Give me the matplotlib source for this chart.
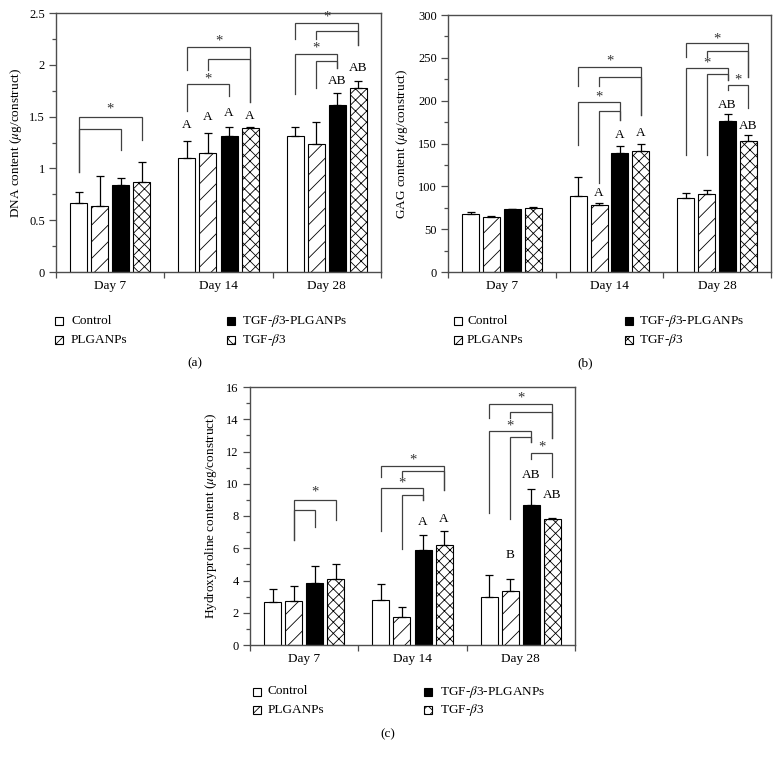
import matplotlib
matplotlib.use('Agg')
import matplotlib.pyplot as plt
import numpy as np
from matplotlib.patches import Rectangle
from matplotlib.ticker import MultipleLocator, FixedLocator, FuncFormatter

plt.rcParams['font.family'] = ['Liberation Serif', 'DejaVu Serif']
plt.rcParams['mathtext.fontset'] = 'stix'
plt.rcParams['hatch.linewidth'] = 0.6

# ---------------- data ----------------
days = ['Day 7', 'Day 14', 'Day 28']
groups = ['Control', 'PLGANPs', r'TGF-$\beta$3-PLGANPs', r'TGF-$\beta$3']

# (a) DNA content
dna_control = [0.67, 1.10, 1.31]
dna_plga = [0.64, 1.15, 1.24]
dna_tgfnp = [0.84, 1.31, 1.61]
dna_tgf = [0.87, 1.39, 1.78]
dna_control_err = [0.10, 0.16, 0.09]
dna_plga_err = [0.29, 0.19, 0.21]
dna_tgfnp_err = [0.07, 0.09, 0.12]
dna_tgf_err = [0.19, 0.01, 0.06]

# (b) GAG content
gag_control = [67.3, 88.7, 86.7]
gag_plga = [64.6, 78.0, 90.7]
gag_tgfnp = [73.2, 138.6, 176.6]
gag_tgf = [75.1, 141.2, 153.0]
gag_control_err = [2.4, 21.8, 5.1]
gag_plga_err = [0.4, 3.0, 5.0]
gag_tgfnp_err = [0.3, 8.9, 8.4]
gag_tgf_err = [0.4, 8.2, 7.0]

# (c) Hydroxyproline content
hyp_control = [2.64, 2.77, 2.99]
hyp_plga = [2.72, 1.75, 3.32]
hyp_tgfnp = [3.82, 5.88, 8.67]
hyp_tgf = [4.07, 6.23, 7.84]
hyp_control_err = [0.83, 1.03, 1.38]
hyp_plga_err = [0.93, 0.58, 0.79]
hyp_tgfnp_err = [1.07, 0.97, 0.99]
hyp_tgf_err = [0.96, 0.87, 0.04]

# significance letters: (day, group, text, y)
dna_letters = [(1, 0, 'A', 1.42), (1, 1, 'A', 1.50), (1, 2, 'A', 1.53), (1, 3, 'A', 1.51),
               (2, 2, 'AB', 1.84), (2, 3, 'AB', 1.97)]
gag_letters = [(1, 1, 'A', 91.8), (1, 2, 'A', 160), (1, 3, 'A', 162.6),
               (2, 2, 'AB', 195), (2, 3, 'AB', 170)]
hyp_letters = [(1, 2, 'A', 7.64), (1, 3, 'A', 7.80),
               (2, 1, 'B', 5.57), (2, 2, 'AB', 10.57), (2, 3, 'AB', 9.33)]

# brackets: (day, left group, right group, top y, left leg end, right leg end, star y or None)
dna_brackets = [
    (0, 0, 3, 1.50, 0.97, 1.27, 1.57),
    (0, 0, 2, 1.38, 0.97, 1.18, None),
    (1, 0, 3, 2.17, 1.95, 1.64, 2.23),
    (1, 1, 3, 2.06, 1.95, 1.64, None),
    (1, 0, 2, 1.81, 1.55, 1.70, 1.86),
    (2, 0, 3, 2.40, 2.25, 2.19, 2.46),
    (2, 1, 3, 2.33, 2.25, 2.19, None),
    (2, 0, 2, 2.10, 1.72, 1.97, 2.16),
    (2, 1, 2, 2.04, 1.78, 1.97, None),
]
gag_brackets = [
    (1, 0, 3, 239.7, 217, 183, 246),
    (1, 1, 3, 228, 217, 183, None),
    (1, 0, 2, 198.4, 148, 177, 204.6),
    (1, 1, 2, 188, 103.5, 177, None),
    (2, 0, 3, 267, 251, 228, 271.6),
    (2, 1, 3, 258, 251, 228, None),
    (2, 0, 2, 238, 137, 224, 243.6),
    (2, 1, 2, 231, 137, 224, None),
    (2, 2, 3, 218, 212, 192, 224),
]
hyp_brackets = [
    (0, 1, 3, 8.98, 6.5, 7.78, 9.49),
    (0, 1, 2, 8.40, 6.5, 7.29, None),
    (1, 0, 3, 11.08, 10.42, 9.6, 11.5),
    (1, 1, 3, 10.80, 10.42, 9.6, None),
    (1, 0, 2, 9.74, 7.07, 8.98, 10.05),
    (1, 1, 2, 9.33, 5.98, 8.98, None),
    (2, 0, 3, 14.92, 14.1, 12.86, 15.34),
    (2, 1, 3, 14.45, 14.1, 12.86, None),
    (2, 0, 2, 13.25, 8.2, 12.59, 13.56),
    (2, 1, 2, 12.90, 7.8, 12.59, None),
    (2, 2, 3, 11.91, 11.56, 10.42, 12.28),
]

# ---------------- styling ----------------
W, H = 781, 761
fig = plt.figure(figsize=(W / 100, H / 100), dpi=100)

faces = ['white', 'white', 'black', 'white']
hatches = [None, '//', None, 'xxx']
STEP = 0.194
BW = 0.157
SPINE = '#4d4d4d'
BR = '#404040'
FS = 9.5
TFS = 9.0


def px_axes(l, t, r, b):
    return [l / W, 1 - b / H, (r - l) / W, (b - t) / H]


def bar_x(day, g):
    return day + (g - 1.5) * STEP


def panel(rect, series, errs, ylim, major, minor, ylabel, ylab_off, letters, brackets):
    ax = fig.add_axes(px_axes(*rect))
    x0 = np.arange(len(days))
    for g in range(4):
        xs = x0 + (g - 1.5) * STEP
        ax.bar(xs, series[g], BW, color=faces[g], edgecolor='black',
               hatch=hatches[g], linewidth=0.8, zorder=2)
        ax.errorbar(xs, series[g], yerr=[np.zeros(len(days)), errs[g]], fmt='none',
                    ecolor='black', elinewidth=0.9, capsize=3, capthick=0.9, zorder=3)
    for (d, g, t, y) in letters:
        ax.text(bar_x(d, g), y, t, ha='center', va='center', fontsize=FS, zorder=4)
    for (d, g1, g2, top, yl, yr, star) in brackets:
        xa, xb = bar_x(d, g1), bar_x(d, g2)
        ax.plot([xa, xa, xb, xb], [yl, top, top, yr], color=BR, lw=0.9,
                solid_joinstyle='miter', zorder=4)
        if star is not None:
            ax.text((xa + xb) / 2, star, '*', ha='center', va='center',
                    fontsize=10.5, color='#333333', zorder=4)
    ax.set_xlim(-0.5, 2.5)
    ax.set_ylim(*ylim)
    ax.set_xticks(x0)
    ax.set_xticklabels(days, fontsize=FS)
    ax.xaxis.set_minor_locator(FixedLocator([-0.5, 0.5, 1.5, 2.5]))
    ax.tick_params(axis='x', which='major', length=0, pad=6)
    ax.tick_params(axis='x', which='minor', length=4, direction='out', color=SPINE, width=0.9)
    ax.yaxis.set_major_locator(MultipleLocator(major))
    ax.yaxis.set_minor_locator(MultipleLocator(minor))
    ax.yaxis.set_major_formatter(FuncFormatter(lambda v, p: '%g' % v))
    ax.tick_params(axis='y', which='major', length=5, direction='out', labelsize=TFS,
                   color=SPINE, width=0.9, pad=3)
    ax.tick_params(axis='y', which='minor', length=3, direction='out', color=SPINE, width=0.9)
    for s in ax.spines.values():
        s.set_color(SPINE)
        s.set_linewidth(1.0)
    ax.set_ylabel(ylabel, fontsize=FS)
    ax.yaxis.set_label_coords(-ylab_off / (rect[2] - rect[0]), 0.5)
    return ax


def legend(col1_sq, col1_txt, col2_sq, col2_txt, row1, row2):
    pos = [(col1_sq, col1_txt, row1), (col1_sq, col1_txt, row2),
           (col2_sq, col2_txt, row1), (col2_sq, col2_txt, row2)]
    for g, (sx, tx, ry) in zip([0, 1, 2, 3], pos):
        sq = 8
        r = Rectangle((sx / W, 1 - (ry + sq / 2) / H), sq / W, sq / H,
                      transform=fig.transFigure, facecolor=faces[g], edgecolor='black',
                      hatch=hatches[g], linewidth=0.8)
        fig.add_artist(r)
        fig.text(tx / W, 1 - ry / H, groups[g], ha='left', va='center', fontsize=FS)


series_a = [dna_control, dna_plga, dna_tgfnp, dna_tgf]
errs_a = [dna_control_err, dna_plga_err, dna_tgfnp_err, dna_tgf_err]
series_b = [gag_control, gag_plga, gag_tgfnp, gag_tgf]
errs_b = [gag_control_err, gag_plga_err, gag_tgfnp_err, gag_tgf_err]
series_c = [hyp_control, hyp_plga, hyp_tgfnp, hyp_tgf]
errs_c = [hyp_control_err, hyp_plga_err, hyp_tgfnp_err, hyp_tgf_err]

panel((56, 13, 381, 272), series_a, errs_a, (0, 2.5), 0.5, 0.25,
      r'DNA content ($\mu$g/construct)', 32, dna_letters, dna_brackets)
panel((448, 15, 771, 272), series_b, errs_b, (0, 300), 50, 25,
      r'GAG content ($\mu$g/construct)', 38, gag_letters, gag_brackets)
panel((250, 387, 575, 645), series_c, errs_c, (0, 16), 2, 1,
      r'Hydroxyproline content ($\mu$g/construct)', 31, hyp_letters, hyp_brackets)

legend(55, 71, 227, 242, 321, 339.5)
legend(454, 467, 625, 639, 321, 339.5)
legend(253, 268, 424, 440, 691.5, 710)

fig.text(195 / W, 1 - 363 / H, '(a)', ha='center', va='center', fontsize=FS)
fig.text(585 / W, 1 - 363 / H, '(b)', ha='center', va='center', fontsize=FS)
fig.text(388 / W, 1 - 734 / H, '(c)', ha='center', va='center', fontsize=FS)

fig.savefig('out.png', dpi=100, facecolor='white')
